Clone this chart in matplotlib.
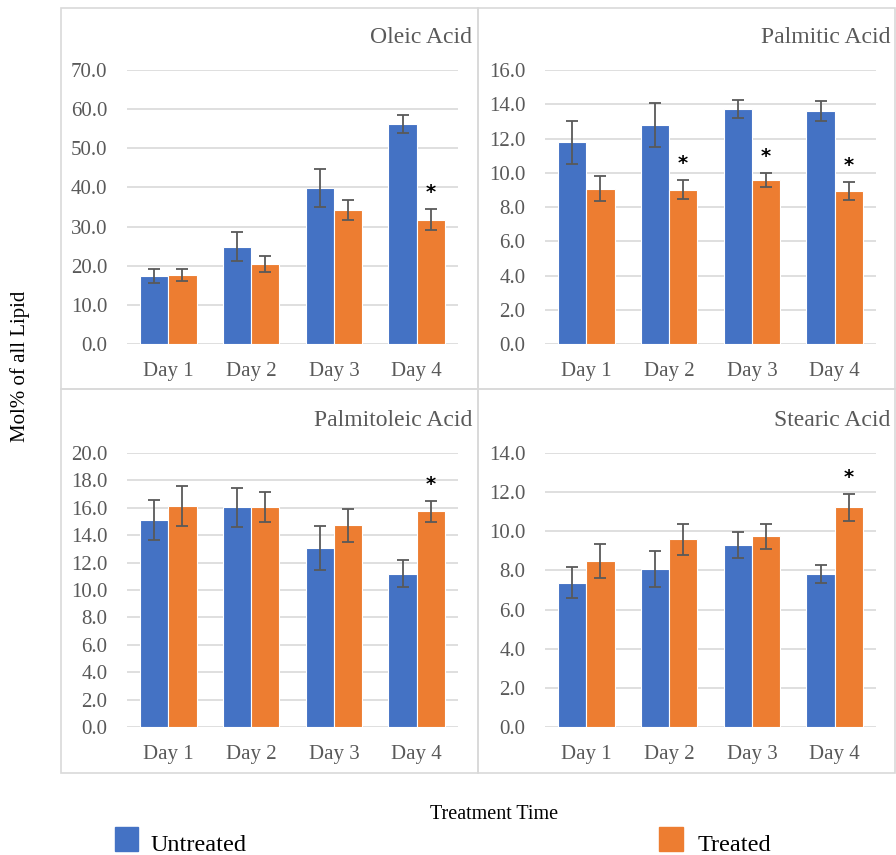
import matplotlib
matplotlib.use("Agg")
import matplotlib.pyplot as plt
from matplotlib.patches import Rectangle
import numpy as np

days = ["Day 1", "Day 2", "Day 3", "Day 4"]

oleic_untreated = [17.4, 24.9, 39.8, 56.2]
oleic_untreated_err = [1.7, 3.7, 4.9, 2.3]
oleic_treated = [17.6, 20.4, 34.3, 31.8]
oleic_treated_err = [1.5, 2.0, 2.5, 2.7]
oleic_sig = [False, False, False, True]

palmitic_untreated = [11.78, 12.79, 13.72, 13.59]
palmitic_untreated_err = [1.26, 1.27, 0.55, 0.58]
palmitic_treated = [9.08, 9.02, 9.58, 8.94]
palmitic_treated_err = [0.72, 0.54, 0.39, 0.53]
palmitic_sig = [False, True, True, True]

palmitoleic_untreated = [15.11, 16.03, 13.07, 11.19]
palmitoleic_untreated_err = [1.46, 1.42, 1.63, 0.97]
palmitoleic_treated = [16.11, 16.06, 14.74, 15.74]
palmitoleic_treated_err = [1.46, 1.10, 1.20, 0.78]
palmitoleic_sig = [False, False, False, True]

stearic_untreated = [7.38, 8.09, 9.30, 7.82]
stearic_untreated_err = [0.80, 0.92, 0.68, 0.48]
stearic_treated = [8.48, 9.59, 9.74, 11.22]
stearic_treated_err = [0.87, 0.78, 0.63, 0.67]
stearic_sig = [False, False, False, True]

BLUE = "#4472C4"
ORANGE = "#ED7D31"
GRID = "#D9D9D9"
TEXT = "#595959"
SERIF = ["Liberation Serif", "DejaVu Serif"]

plt.rcParams["font.family"] = SERIF

W, H = 896, 855
fig = plt.figure(figsize=(W / 100, H / 100), dpi=100)

# panel frames
for (x0, y0, x1, y1) in [(61, 8, 478, 389), (478, 8, 895, 389),
                         (61, 389, 478, 773), (478, 389, 895, 773)]:
    fig.patches.append(Rectangle((x0 / W, 1 - y1 / H), (x1 - x0) / W, (y1 - y0) / H,
                                 transform=fig.transFigure, fill=False,
                                 edgecolor=GRID, linewidth=1.2))


def panel(rect, title, unt, unt_err, trt, trt_err, sig, ymax, step):
    ax = fig.add_axes(rect)
    x = np.arange(len(days))
    bw = 0.34
    ax.bar(x - bw / 2, unt, bw, color=BLUE, edgecolor="white", linewidth=0.8, zorder=2)
    ax.bar(x + bw / 2, trt, bw, color=ORANGE, edgecolor="white", linewidth=0.8, zorder=2)
    ax.errorbar(x - bw / 2, unt, yerr=unt_err, fmt="none", ecolor=TEXT,
                elinewidth=1.3, capsize=4, capthick=1.3, zorder=3)
    ax.errorbar(x + bw / 2, trt, yerr=trt_err, fmt="none", ecolor=TEXT,
                elinewidth=1.3, capsize=4, capthick=1.3, zorder=3)
    for i, s in enumerate(sig):
        if s:
            ax.annotate("*", (x[i] + bw / 2, trt[i] + trt_err[i]), xytext=(0, 5),
                        textcoords="offset points", ha="center", va="bottom",
                        fontsize=14, fontweight="bold", color="black",
                        family=["DejaVu Sans"])
    ax.set_xlim(-0.5, len(days) - 0.5)
    ax.set_ylim(0, ymax)
    ax.set_yticks(np.arange(0, ymax + step / 2, step))
    ax.set_yticklabels([f"{v:.1f}" for v in np.arange(0, ymax + step / 2, step)])
    ax.set_xticks(x)
    ax.set_xticklabels(days)
    ax.tick_params(axis="y", length=0, pad=14, labelsize=15, labelcolor=TEXT)
    ax.tick_params(axis="x", length=0, pad=13, labelsize=15, labelcolor=TEXT)
    ax.grid(axis="y", color=GRID, linewidth=1.2, zorder=0)
    ax.set_axisbelow(True)
    for sp in ax.spines.values():
        sp.set_visible(False)
    r = rect[0] + rect[2]
    fig.text(r + 14 / W, rect[1] + rect[3] + 33 / H, title, ha="right", va="center",
             fontsize=17, color=TEXT)
    return ax


ax_w = (458 - 127) / W
ax_h = (344 - 70) / H
panel([127 / W, 1 - 344 / H, ax_w, ax_h], "Oleic Acid",
      oleic_untreated, oleic_untreated_err, oleic_treated, oleic_treated_err,
      oleic_sig, 70, 10)
panel([545 / W, 1 - 344 / H, ax_w, ax_h], "Palmitic Acid",
      palmitic_untreated, palmitic_untreated_err, palmitic_treated, palmitic_treated_err,
      palmitic_sig, 16, 2)
panel([127 / W, 1 - 727 / H, ax_w, ax_h], "Palmitoleic Acid",
      palmitoleic_untreated, palmitoleic_untreated_err, palmitoleic_treated,
      palmitoleic_treated_err, palmitoleic_sig, 20, 2)
panel([545 / W, 1 - 727 / H, ax_w, ax_h], "Stearic Acid",
      stearic_untreated, stearic_untreated_err, stearic_treated, stearic_treated_err,
      stearic_sig, 14, 2)

fig.text(20 / W, 1 - 366 / H, "Mol% of all Lipid", rotation=90, ha="center",
         va="center", fontsize=15, color="black")
fig.text(494 / W, 1 - 814 / H, "Treatment Time", ha="center", va="center",
         fontsize=14.5, color="black")

# legend
fig.patches.append(Rectangle((115 / W, 1 - 851 / H), 23 / W, 24 / H,
                             transform=fig.transFigure, color=BLUE))
fig.text(151 / W, 1 - 845 / H, "Untreated", ha="left", va="center",
         fontsize=17.5, color="black")
fig.patches.append(Rectangle((659 / W, 1 - 851 / H), 24 / W, 24 / H,
                             transform=fig.transFigure, color=ORANGE))
fig.text(698 / W, 1 - 845 / H, "Treated", ha="left", va="center",
         fontsize=17.5, color="black")

fig.savefig("out.png", dpi=100, facecolor="white")
